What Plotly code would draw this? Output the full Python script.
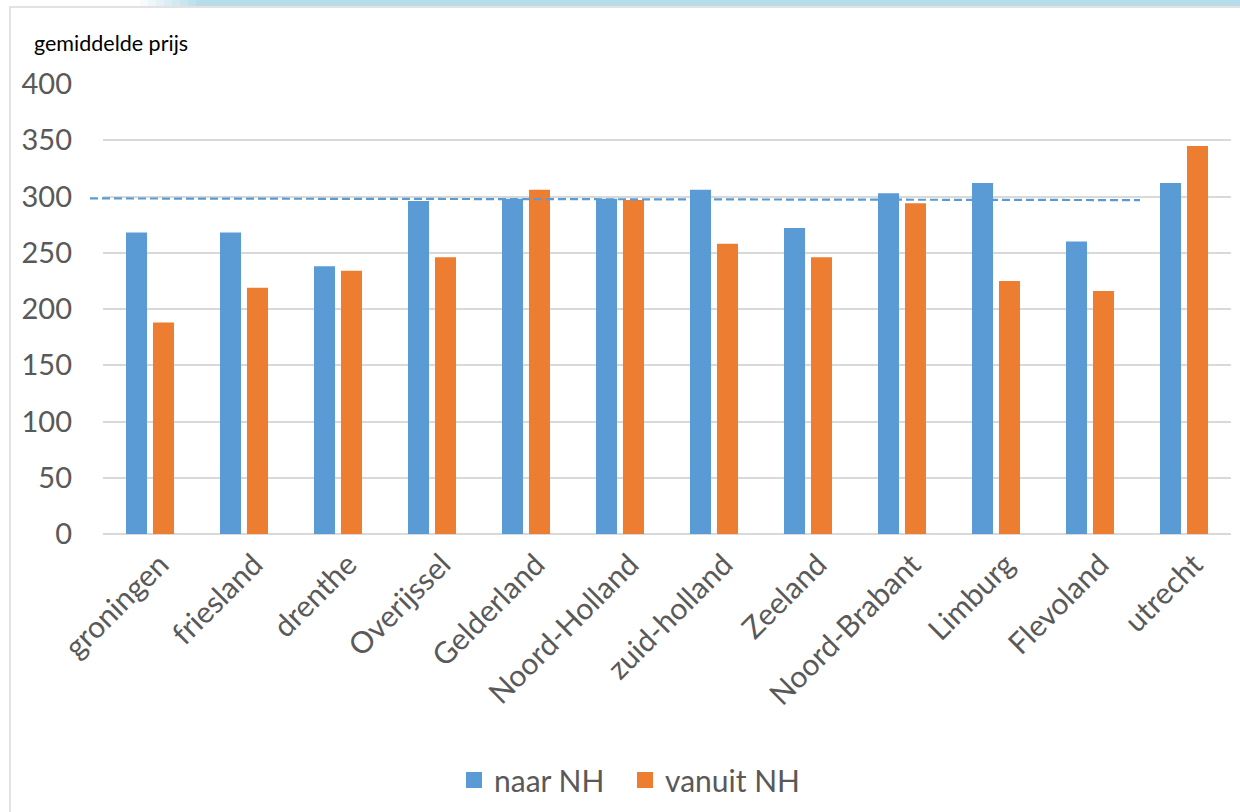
import plotly.graph_objects as go

# Provincies en gemiddelde prijzen
provincies = ["groningen", "friesland", "drenthe", "Overijssel", "Gelderland",
              "Noord-Holland", "zuid-holland", "Zeeland", "Noord-Brabant",
              "Limburg", "Flevoland", "utrecht"]
naar_nh = [268, 268, 238, 296, 298, 298, 306, 272, 303, 312, 260, 312]
vanuit_nh = [188, 219, 234, 246, 306, 297, 258, 246, 294, 225, 216, 345]

# Referentielijn (begin- en eindwaarde)
referentie = [298.3, 296.8]

y_ticks = [0, 50, 100, 150, 200, 250, 300, 350, 400]

BLAUW = "#5B9BD5"
ORANJE = "#ED7D31"
GRIJS_TEKST = "#595959"
GRID = "#D9D9D9"
FONT = "Lato, Carlito, 'Open Sans', sans-serif"

W, H = 1240, 812
L, R, T, B = 103, 9, 84, 278
PW = W - L - R
PH = H - T - B


def px_x(px):
    return (px - L) / PW


def px_y(py):
    return (H - B - py) / PH


fig = go.Figure()

fig.add_trace(go.Bar(x=provincies, y=naar_nh, name="naar NH",
                     marker=dict(color=BLAUW, line=dict(width=0)),
                     showlegend=False))
fig.add_trace(go.Bar(x=provincies, y=vanuit_nh, name="vanuit NH",
                     marker=dict(color=ORANJE, line=dict(width=0)),
                     showlegend=False))

# Legenda-items met vierkante symbolen, elk in een eigen legenda
for naam, kleur, leg in (("naar NH", BLAUW, "legend"), ("vanuit NH", ORANJE, "legend2")):
    fig.add_trace(go.Scatter(x=[None], y=[None], mode="markers", name=naam,
                             legend=leg,
                             marker=dict(symbol="square", size=20, color=kleur)))

shapes = [
    # gestippelde referentielijn
    dict(type="line", xref="paper", yref="y",
         x0=px_x(90), x1=px_x(1140), y0=referentie[0], y1=referentie[1],
         line=dict(color=BLAUW, width=2.2, dash="8px,4px"), layer="above"),
    # kader om de grafiek
    dict(type="rect", xref="paper", yref="paper",
         x0=px_x(10), x1=px_x(1260), y0=px_y(7), y1=px_y(840),
         line=dict(color=GRID, width=1.5), fillcolor="rgba(0,0,0,0)", layer="below"),
]

# lichtblauwe band bovenaan met een zachte overgang
band_kleur = (183, 220, 234)
stappen = 8
for i in range(stappen):
    a = (i + 1) / stappen
    x0 = 140 + i * 8
    shapes.append(dict(type="rect", xref="paper", yref="paper",
                       x0=px_x(x0), x1=px_x(x0 + 8), y0=px_y(0), y1=px_y(6),
                       line=dict(width=0),
                       fillcolor=f"rgba({band_kleur[0]},{band_kleur[1]},{band_kleur[2]},{a:.2f})"))
shapes.append(dict(type="rect", xref="paper", yref="paper",
                   x0=px_x(140 + stappen * 8), x1=px_x(1245), y0=px_y(0), y1=px_y(6),
                   line=dict(width=0),
                   fillcolor=f"rgb({band_kleur[0]},{band_kleur[1]},{band_kleur[2]})"))

legend_stijl = dict(orientation="h", xanchor="left", y=px_y(780), yanchor="middle",
                    font=dict(size=30, color=GRIJS_TEKST, family=FONT),
                    itemsizing="trace", itemwidth=30, bgcolor="rgba(0,0,0,0)")

fig.update_layout(
    width=W, height=H,
    margin=dict(l=L, r=R, t=T, b=B, autoexpand=False),
    paper_bgcolor="white", plot_bgcolor="white",
    font=dict(family=FONT, color=GRIJS_TEKST),
    barmode="group", bargap=0.426, bargroupgap=0.22,
    showlegend=True,
    legend=dict(x=px_x(454), **legend_stijl),
    legend2=dict(x=px_x(625), **legend_stijl),
    shapes=shapes,
    annotations=[dict(text="gemiddelde prijs", xref="paper", yref="paper",
                      x=px_x(32), y=px_y(43), xanchor="left", yanchor="middle",
                      showarrow=False, font=dict(size=21.5, color="black", family=FONT))],
)

fig.update_xaxes(type="category", tickangle=-45, showgrid=False,
                 showline=False, ticks="", tickfont=dict(size=30, color=GRIJS_TEKST),
                 ticklabelstandoff=6, ticklabelshift=10)
fig.update_yaxes(range=[0, 400], tickvals=y_ticks, showgrid=True,
                 gridcolor=GRID, gridwidth=1.5, zeroline=True, zerolinecolor=GRID,
                 zerolinewidth=1.5, showline=False, ticks="",
                 tickfont=dict(size=29, color=GRIJS_TEKST), ticklabelstandoff=30)

fig.write_html("out.html")
